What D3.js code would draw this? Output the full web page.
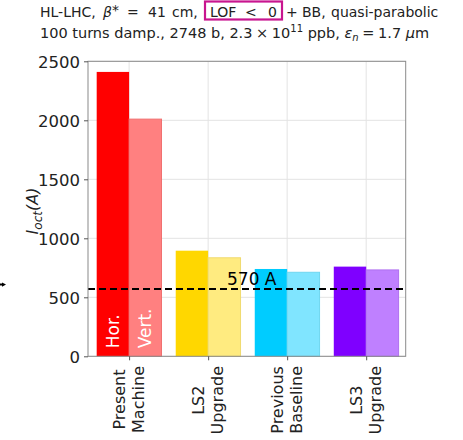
<!DOCTYPE html>
<html>
<head>
<meta charset="utf-8">
<script src="https://cdn.jsdelivr.net/npm/d3@7/dist/d3.min.js"></script>
<style>
  html, body { margin: 0; padding: 0; background: #fff; }
  svg { display: block; font-family: "DejaVu Sans", sans-serif; }
  .title { white-space: pre; }
</style>
</head>
<body>
<svg id="chart" width="463" height="440"></svg>
<script>
// Octupole current needed for stability, per machine configuration
const categories = [["Present", "Machine"], ["LS2", "Upgrade"], ["Previous", "Baseline"], ["LS3", "Upgrade"]];
const horValues = [2410, 895, 740, 760];
const vertValues = [2010, 835, 712, 732];
const horColors = ["#ff0000", "#ffd700", "#00ccff", "#7f00ff"];
const vertColors = ["#ff8080", "#ffeb80", "#80e5ff", "#bf80ff"];
const vertEdges = ["#f07070", "#f0da70", "#70d6f0", "#b070f0"];
const threshold = 570;
const yTicks = [0, 500, 1000, 1500, 2000, 2500];

const svg = d3.select("#chart");
const plot = { left: 88, right: 405.7, top: 61.3, bottom: 356.3 };
const barW = 0.41;

const x = d3.scaleLinear().domain([-0.52, 3.5]).range([plot.left, plot.right]);
const y = d3.scaleLinear().domain([0, 2500]).range([plot.bottom, plot.top]);

// grid
const grid = svg.append("g");
grid.selectAll("line.h").data(yTicks).join("line")
  .attr("x1", plot.left).attr("x2", plot.right)
  .attr("y1", d => y(d)).attr("y2", d => y(d))
  .attr("stroke", "#e3e3e3").attr("stroke-width", 1);
grid.selectAll("line.v").data(categories.map((c, i) => i)).join("line")
  .attr("x1", d => x(d)).attr("x2", d => x(d))
  .attr("y1", plot.top).attr("y2", plot.bottom)
  .attr("stroke", "#e3e3e3").attr("stroke-width", 1);

// bars
const bars = svg.append("g");
bars.selectAll("rect.hor").data(horValues).join("rect")
  .attr("x", (d, i) => x(i - barW)).attr("width", (d, i) => x(i) - x(i - barW))
  .attr("y", d => y(d)).attr("height", d => y(0) - y(d))
  .attr("fill", (d, i) => horColors[i]);
bars.selectAll("rect.vert").data(vertValues).join("rect")
  .attr("x", (d, i) => x(i)).attr("width", (d, i) => x(i + barW) - x(i))
  .attr("y", d => y(d)).attr("height", d => y(0) - y(d))
  .attr("fill", (d, i) => vertColors[i])
  .attr("stroke", (d, i) => vertEdges[i]).attr("stroke-width", 1);

// in-bar plane labels
svg.append("text")
  .attr("transform", `translate(${x(-barW / 2) + 6},${y(0) - 8}) rotate(-90)`)
  .attr("fill", "#fff").attr("font-size", 17).text("Hor.");
svg.append("text")
  .attr("transform", `translate(${x(barW / 2) + 6},${y(0) - 8}) rotate(-90)`)
  .attr("fill", "#fff").attr("font-size", 17).text("Vert.");

// threshold line
svg.append("line")
  .attr("x1", plot.left).attr("x2", plot.right)
  .attr("y1", y(threshold)).attr("y2", y(threshold))
  .attr("stroke", "#000").attr("stroke-width", 2).attr("stroke-dasharray", "7,4");
svg.append("text")
  .attr("x", 227).attr("y", y(threshold) - 4)
  .attr("font-size", 17).attr("fill", "#000").text(threshold + " A");

// frame
svg.append("rect")
  .attr("x", plot.left).attr("y", plot.top)
  .attr("width", plot.right - plot.left).attr("height", plot.bottom - plot.top)
  .attr("fill", "none").attr("stroke", "#8a8a8a").attr("stroke-width", 1);

// y axis
const yAxis = svg.append("g").attr("transform", `translate(${plot.left},0)`)
  .call(d3.axisLeft(y).tickValues(yTicks).tickSize(4).tickPadding(4).tickFormat(d3.format("d")));
yAxis.select(".domain").remove();
yAxis.selectAll("line").attr("stroke", "#555");
yAxis.selectAll("text").attr("font-size", 16.5).attr("fill", "#222")
  .attr("font-family", "DejaVu Sans, sans-serif").attr("dy", "0.36em");

// x axis ticks + two-line rotated labels
const xAxis = svg.append("g").attr("transform", `translate(0,${plot.bottom})`)
  .call(d3.axisBottom(x).tickValues(categories.map((c, i) => i)).tickSize(4).tickFormat(""));
xAxis.select(".domain").remove();
xAxis.selectAll("line").attr("stroke", "#555");

const xl = svg.append("g").attr("font-size", 16).attr("fill", "#222");
categories.forEach((lines, i) => {
  const g = xl.append("g");
  const texts = lines.map((t, k) => g.append("text")
    .attr("text-anchor", "middle").text(t));
  const maxLen = d3.max(texts, t => t.node().getComputedTextLength());
  const cy = 366 + maxLen / 2;
  texts.forEach((t, k) => {
    const cx = x(i) + (k === 0 ? -4 : 15);
    t.attr("transform", `translate(${cx},${cy}) rotate(-90)`);
  });
});

// y label
const yl = svg.append("text")
  .attr("transform", "translate(38,211) rotate(-90)")
  .attr("text-anchor", "middle").attr("font-size", 16).attr("fill", "#222")
  .attr("font-style", "italic");
yl.append("tspan").text("I");
yl.append("tspan").attr("font-size", 12).attr("dy", 4).text("oct");
yl.append("tspan").attr("dy", -4).text("(A)");

// title line 1: pieces set one by one, like typeset math
const t1y = 17;
const t1 = svg.append("text").attr("class", "title").attr("y", t1y)
  .attr("font-size", 14).attr("fill", "#222");
[
  { x: 40, t: "HL-LHC," },
  { x: 103, t: "β", it: true },
  { x: 112, t: "*", dy: -2 },
  { x: 127, t: "=" },
  { x: 148, t: "41" },
  { x: 172, t: "cm," },
  { x: 210, t: "LOF" },
  { x: 245, t: "<" },
  { x: 268, t: "0" },
  { x: 286, t: "+" },
  { x: 302, t: "BB," },
  { x: 331, t: "quasi-parabolic" }
].forEach(p => {
  const s = t1.append("tspan").attr("x", p.x).attr("y", t1y + (p.dy || 0)).text(p.t);
  if (p.it) s.attr("font-style", "italic");
});
svg.append("rect")
  .attr("x", 205).attr("y", 1.5).attr("width", 77).attr("height", 18)
  .attr("fill", "none").attr("stroke", "#c8158f").attr("stroke-width", 2.2);

// title line 2: running text with math spacing around × and =
const t2y = 38;
const t2 = svg.append("text").attr("class", "title").attr("x", 40).attr("y", t2y)
  .attr("font-size", 14.5).attr("fill", "#222");
t2.append("tspan").text("100 turns damp., 2748 b, 2.3\u2005×\u200510");
t2.append("tspan").attr("font-size", 10).attr("y", t2y - 6).text("11");
t2.append("tspan").attr("y", t2y).text(" ppb, ");
t2.append("tspan").attr("font-style", "italic").text("ε");
t2.append("tspan").attr("font-style", "italic").attr("font-size", 10).attr("y", t2y + 3).text("n");
t2.append("tspan").attr("y", t2y).text("\u2005=\u20051.7 ");
t2.append("tspan").attr("font-style", "italic").text("μ");
t2.append("tspan").text("m");

// pointer arrow at the left edge
svg.append("path")
  .attr("d", "M0,283.6 L2,283.6 L2,282.4 L6,284.6 L2,286.8 L2,285.6 L0,285.6 Z")
  .attr("fill", "#000");
</script>
</body>
</html>
